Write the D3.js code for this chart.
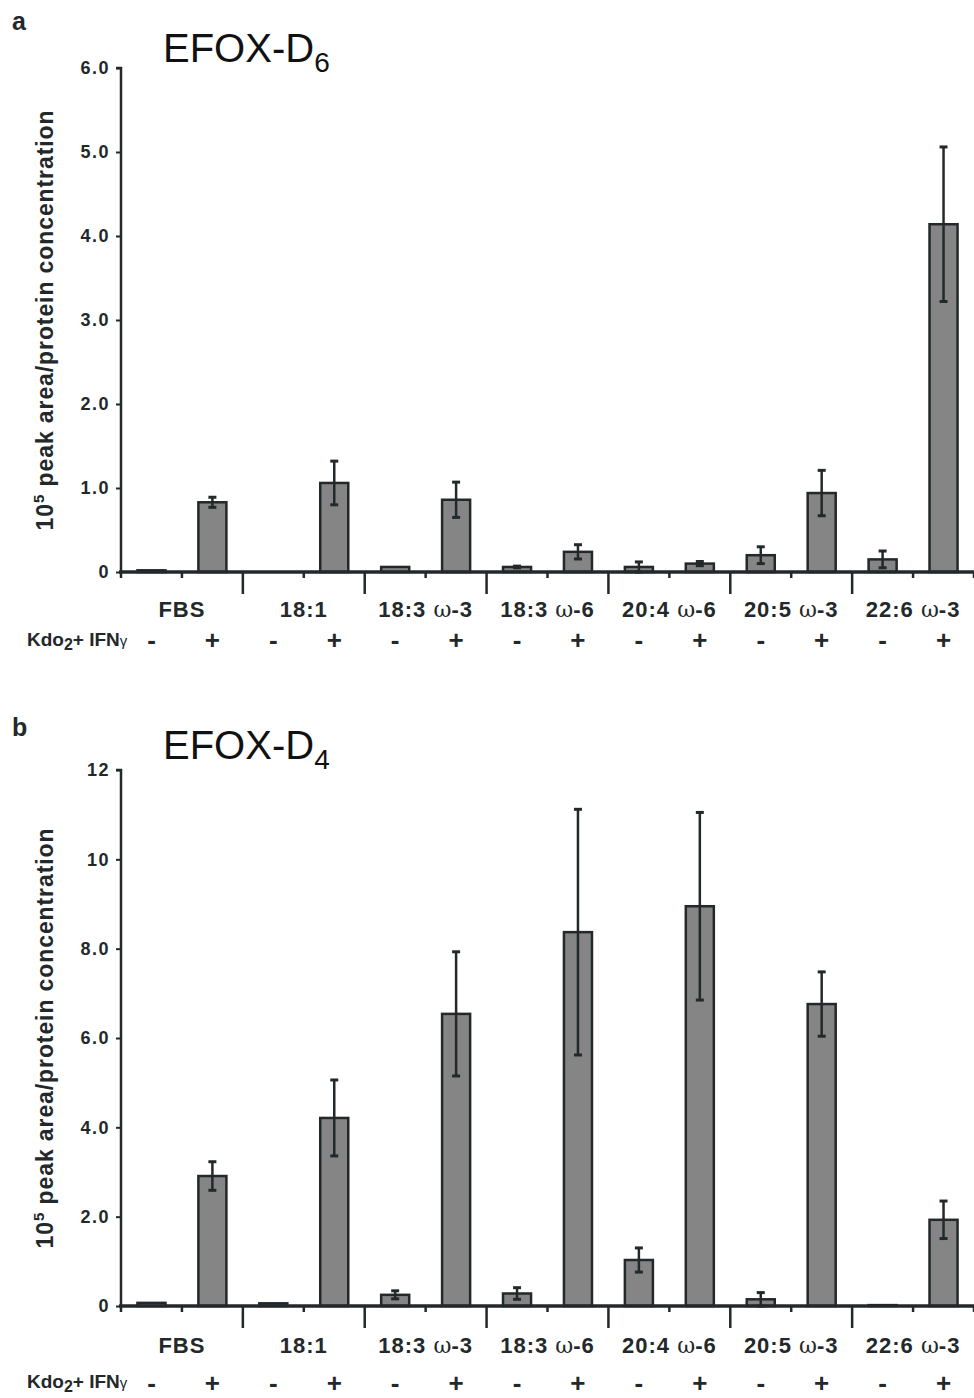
<!DOCTYPE html>
<html>
<head>
<meta charset="utf-8">
<script src="https://cdn.jsdelivr.net/npm/d3@7"></script>
<style>
  html, body { margin: 0; padding: 0; background: #fff; }
  svg { display: block; font-family: "Liberation Sans", Arial, sans-serif; }
</style>
</head>
<body>
<svg id="chart" width="974" height="1398"></svg>
<script>
// Fatty-acid supplement groups; each has an unstimulated (-) and stimulated (+) bar
const groups = ["FBS", "18:1", "18:3 ω-3", "18:3 ω-6", "20:4 ω-6", "20:5 ω-3", "22:6 ω-3"];
const treatments = ["-", "+"];

// EFOX-D6 (panel a): mean and error, ordered group by group as -, +
const d6Mean = [0.02, 0.83, 0.0, 1.06, 0.06, 0.86, 0.06, 0.24, 0.06, 0.10, 0.20, 0.94, 0.15, 4.14];
const d6Err  = [0.0, 0.06, 0.0, 0.26, 0.0, 0.21, 0.01, 0.085, 0.06, 0.025, 0.10, 0.27, 0.10, 0.92];
const d6Ticks = [0, 1, 2, 3, 4, 5, 6];
const d6TickLabels = ["0", "1.0", "2.0", "3.0", "4.0", "5.0", "6.0"];

// EFOX-D4 (panel b)
const d4Mean = [0.07, 2.91, 0.06, 4.21, 0.25, 6.54, 0.28, 8.37, 1.03, 8.95, 0.15, 6.76, 0.02, 1.93];
const d4Err  = [0.0, 0.32, 0.0, 0.85, 0.09, 1.39, 0.13, 2.75, 0.27, 2.1, 0.15, 0.72, 0.0, 0.42];
const d4Ticks = [0, 2, 4, 6, 8, 10, 12];
const d4TickLabels = ["0", "2.0", "4.0", "6.0", "8.0", "10", "12"];

const ink = "#23282a";
const barFill = "#858585";
const svg = d3.select("#chart");

function drawPanel(cfg) {
  const g = svg.append("g");
  const slots = d3.range(groups.length * 2);
  const x = d3.scaleBand().domain(slots).range([cfg.left, cfg.right]).paddingInner(0).paddingOuter(0);
  const xg = d3.scaleBand().domain(groups).range([cfg.left, cfg.right]);
  const y = d3.scaleLinear().domain([0, cfg.max]).range([cfg.bottom, cfg.top]);
  const bw = x.bandwidth() * 0.46;

  // panel letter
  g.append("text").attr("x", 12).attr("y", cfg.letterY)
    .attr("font-size", 25).attr("font-weight", "bold").attr("fill", ink).text(cfg.letter);

  // title with subscript
  const t = g.append("text").attr("x", 163).attr("y", cfg.titleY)
    .attr("font-size", 40).attr("fill", "#111");
  t.append("tspan").text("EFOX-D");
  t.append("tspan").attr("font-size", 28).attr("dy", 10).text(cfg.sub);

  // y axis
  const yAxis = d3.axisLeft(y).tickValues(cfg.ticks)
    .tickFormat((d, i) => cfg.tickLabels[i]).tickSize(5).tickPadding(6);
  const ya = g.append("g").attr("transform", `translate(${cfg.left},0)`).call(yAxis);
  ya.select(".domain").attr("stroke", ink).attr("stroke-width", 2.5).attr("d", `M-5,${cfg.top}H0V${cfg.bottom}`);
  ya.selectAll(".tick line").attr("stroke", ink).attr("stroke-width", 2);
  ya.selectAll(".tick text").attr("font-size", 18).attr("font-weight", "bold")
    .attr("letter-spacing", 1.5)
    .attr("fill", ink).attr("font-family", "Liberation Sans, Arial, sans-serif");

  // y axis title
  const yt = g.append("text")
    .attr("transform", `translate(53,${(cfg.top + cfg.bottom) / 2}) rotate(-90)`)
    .attr("text-anchor", "middle").attr("font-size", 23).attr("font-weight", "bold")
    .attr("letter-spacing", 0.9).attr("fill", ink);
  yt.append("tspan").text("10");
  yt.append("tspan").attr("font-size", 15).attr("dy", -9).text("5");
  yt.append("tspan").attr("dy", 9).text(" peak area/protein concentration");

  // bars
  g.selectAll("rect.bar").data(cfg.mean).join("rect")
    .attr("class", "bar")
    .attr("x", (d, i) => x(i) + (x.bandwidth() - bw) / 2)
    .attr("y", d => y(d))
    .attr("width", bw)
    .attr("height", d => y(0) - y(d))
    .attr("fill", barFill).attr("stroke", ink).attr("stroke-width", 2.5);

  // error bars
  const eb = g.selectAll("g.err").data(cfg.mean.map((m, i) => ({ m, e: cfg.err[i], i })).filter(d => d.e > 0))
    .join("g").attr("class", "err");
  eb.append("line")
    .attr("x1", d => x(d.i) + x.bandwidth() / 2).attr("x2", d => x(d.i) + x.bandwidth() / 2)
    .attr("y1", d => y(d.m + d.e)).attr("y2", d => y(Math.max(0, d.m - d.e)))
    .attr("stroke", ink).attr("stroke-width", 2.5);
  eb.append("line")
    .attr("x1", d => x(d.i) + x.bandwidth() / 2 - 4).attr("x2", d => x(d.i) + x.bandwidth() / 2 + 4)
    .attr("y1", d => y(d.m + d.e)).attr("y2", d => y(d.m + d.e))
    .attr("stroke", ink).attr("stroke-width", 3);
  eb.append("line")
    .attr("x1", d => x(d.i) + x.bandwidth() / 2 - 4).attr("x2", d => x(d.i) + x.bandwidth() / 2 + 4)
    .attr("y1", d => y(Math.max(0, d.m - d.e))).attr("y2", d => y(Math.max(0, d.m - d.e)))
    .attr("stroke", ink).attr("stroke-width", 3);

  // x axis line and ticks
  g.append("line").attr("x1", cfg.left - 2).attr("x2", cfg.right)
    .attr("y1", y(0)).attr("y2", y(0)).attr("stroke", ink).attr("stroke-width", 3.5);
  const bounds = d3.range(groups.length * 2 + 1).map(k => cfg.left + k * x.bandwidth());
  g.selectAll("line.xt").data(bounds).join("line").attr("class", "xt")
    .attr("x1", d => d).attr("x2", d => d)
    .attr("y1", y(0)).attr("y2", (d, k) => y(0) + (k % 2 === 0 && k > 0 && k < groups.length * 2 ? 22 : 6))
    .attr("stroke", ink).attr("stroke-width", 2.5);

  // category labels
  const cl = g.selectAll("text.cat").data(groups).join("text").attr("class", "cat")
    .attr("x", d => xg(d) + xg.bandwidth() / 2).attr("y", y(0) + cfg.catDy)
    .attr("text-anchor", "middle").attr("font-size", 22).attr("font-weight", "bold")
    .attr("letter-spacing", 1).attr("fill", ink);
  cl.each(function (d) {
    const parts = d.split("ω");
    const el = d3.select(this);
    el.append("tspan").text(parts[0]);
    if (parts.length > 1) {
      el.append("tspan").attr("font-weight", "normal").attr("font-family", "DejaVu Serif, serif")
        .attr("letter-spacing", 0).attr("font-size", 22).text("ω");
      el.append("tspan").text(parts[1]);
    }
  });

  // treatment row
  const tr = g.append("text").attr("x", 27).attr("y", y(0) + cfg.kdoDy)
    .attr("font-size", 19).attr("font-weight", "bold").attr("fill", ink);
  tr.append("tspan").text("Kdo");
  tr.append("tspan").attr("dy", 4).attr("font-size", 16).text("2");
  tr.append("tspan").attr("dy", -4).text("+ IFN");
  tr.append("tspan").attr("font-size", 15).attr("font-weight", "normal").text("γ");

  g.selectAll("text.trt").data(slots).join("text").attr("class", "trt")
    .attr("x", d => x(d) + x.bandwidth() / 2).attr("y", y(0) + cfg.trtDy)
    .attr("text-anchor", "middle").attr("font-size", 26).attr("font-weight", "bold").attr("fill", ink)
    .text(d => treatments[d % 2]);
}

drawPanel({
  letter: "a", letterY: 30, titleY: 62, sub: "6",
  left: 121, right: 974, top: 68, bottom: 572, max: 6,
  catDy: 45, kdoDy: 74, trtDy: 77,
  mean: d6Mean, err: d6Err, ticks: d6Ticks, tickLabels: d6TickLabels
});

drawPanel({
  letter: "b", letterY: 736, titleY: 759, sub: "4",
  left: 121, right: 974, top: 770, bottom: 1306, max: 12,
  catDy: 47, kdoDy: 82, trtDy: 86,
  mean: d4Mean, err: d4Err, ticks: d4Ticks, tickLabels: d4TickLabels
});
</script>
</body>
</html>
